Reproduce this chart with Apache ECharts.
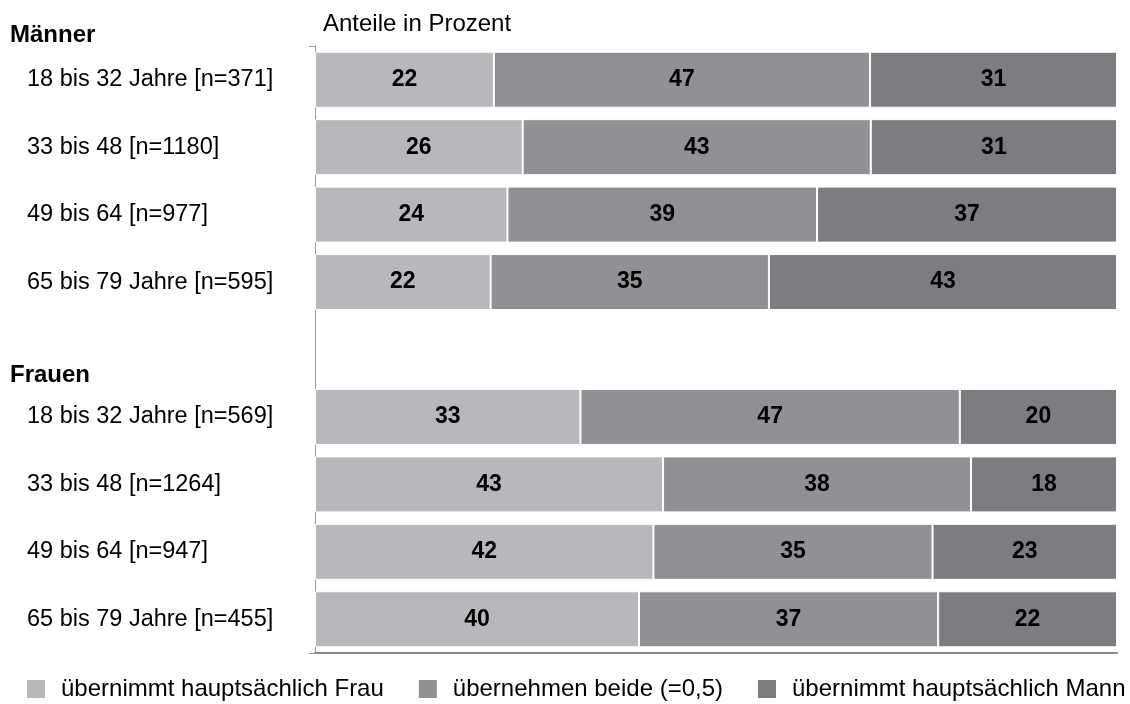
<!DOCTYPE html>
<html>
<head>
<meta charset="utf-8">
<script src="https://cdn.jsdelivr.net/npm/echarts@6/dist/echarts.min.js"></script>
<style>
  html, body { margin: 0; padding: 0; background: #fff; }
  #chart { width: 1130px; height: 704px; }
</style>
</head>
<body>
<div id="chart"></div>
<script>
// categories top to bottom, '' is the spacer between Männer and Frauen
var categories = [
  '18 bis 32 Jahre [n=371]',
  '33 bis 48 [n=1180]',
  '49 bis 64 [n=977]',
  '65 bis 79 Jahre [n=595]',
  '',
  '18 bis 32 Jahre [n=569]',
  '33 bis 48 [n=1264]',
  '49 bis 64 [n=947]',
  '65 bis 79 Jahre [n=455]'
];
var seriesNames = ['übernimmt hauptsächlich Frau', 'übernehmen beide (=0,5)', 'übernimmt hauptsächlich Mann'];
var frau  = [22.3, 25.9, 24.0, 21.9, null, 33.1, 43.4, 42.2, 40.4];
var beide = [46.9, 43.4, 38.6, 34.7, null, 47.3, 38.4, 34.8, 37.3];
var mann  = [30.8, 30.7, 37.4, 43.4, null, 19.6, 18.2, 23.0, 22.3];
var colors = ['#b7b8bc', '#8f9195', '#7c7d81'];

var chart = echarts.init(document.getElementById('chart'));
var font = 'Liberation Sans, Arial, sans-serif';

function makeSeries(name, data, color) {
  return {
    name: name,
    type: 'bar',
    stack: 'total',
    data: data,
    barWidth: 56,
    itemStyle: { color: color, borderColor: '#fff', borderWidth: 1 },
    label: {
      show: true,
      position: 'inside',
      color: '#000',
      fontWeight: 'bold',
      fontSize: 23,
      fontFamily: font,
      formatter: function (p) { return Math.round(p.value); }
    }
  };
}

chart.setOption({
  animation: false,
  textStyle: { fontFamily: font },
  grid: { left: 315, right: 13, top: 46, bottom: 51, containLabel: false },
  graphic: [
    { type: 'text', left: 10, top: 23, style: { text: 'Männer', fontSize: 24, fontWeight: 'bold', fontFamily: font, fill: '#000' } },
    { type: 'text', left: 10, top: 363, style: { text: 'Frauen', fontSize: 24, fontWeight: 'bold', fontFamily: font, fill: '#000' } },
    { type: 'text', left: 323, top: 12, style: { text: 'Anteile in Prozent', fontSize: 24, fontFamily: font, fill: '#000' } }
  ],
  legend: {
    left: 25,
    top: 677,
    width: 1105,
    padding: 0,
    icon: 'rect',
    itemWidth: 20,
    itemHeight: 20,
    itemGap: 33,
    textStyle: { fontSize: 24, fontFamily: font, color: '#000', padding: [0, 0, 0, 10] },
    data: seriesNames
  },
  xAxis: {
    type: 'value',
    min: 0,
    max: 100,
    interval: 100,
    axisLine: { show: true, lineStyle: { color: '#888', width: 2 } },
    axisTick: { show: false },
    axisLabel: { show: false },
    splitLine: { show: false }
  },
  yAxis: {
    type: 'category',
    inverse: true,
    data: categories,
    axisLine: { show: true, lineStyle: { color: '#999', width: 1 } },
    axisTick: {
      show: true,
      length: 6,
      lineStyle: { color: '#999' },
      interval: function (i) { return i === 0; }
    },
    axisLabel: {
      margin: 288,
      align: 'left',
      fontSize: 23.5,
      fontFamily: font,
      color: '#000'
    }
  },
  series: [
    makeSeries(seriesNames[0], frau, colors[0]),
    makeSeries(seriesNames[1], beide, colors[1]),
    makeSeries(seriesNames[2], mann, colors[2])
  ]
});
</script>
</body>
</html>
